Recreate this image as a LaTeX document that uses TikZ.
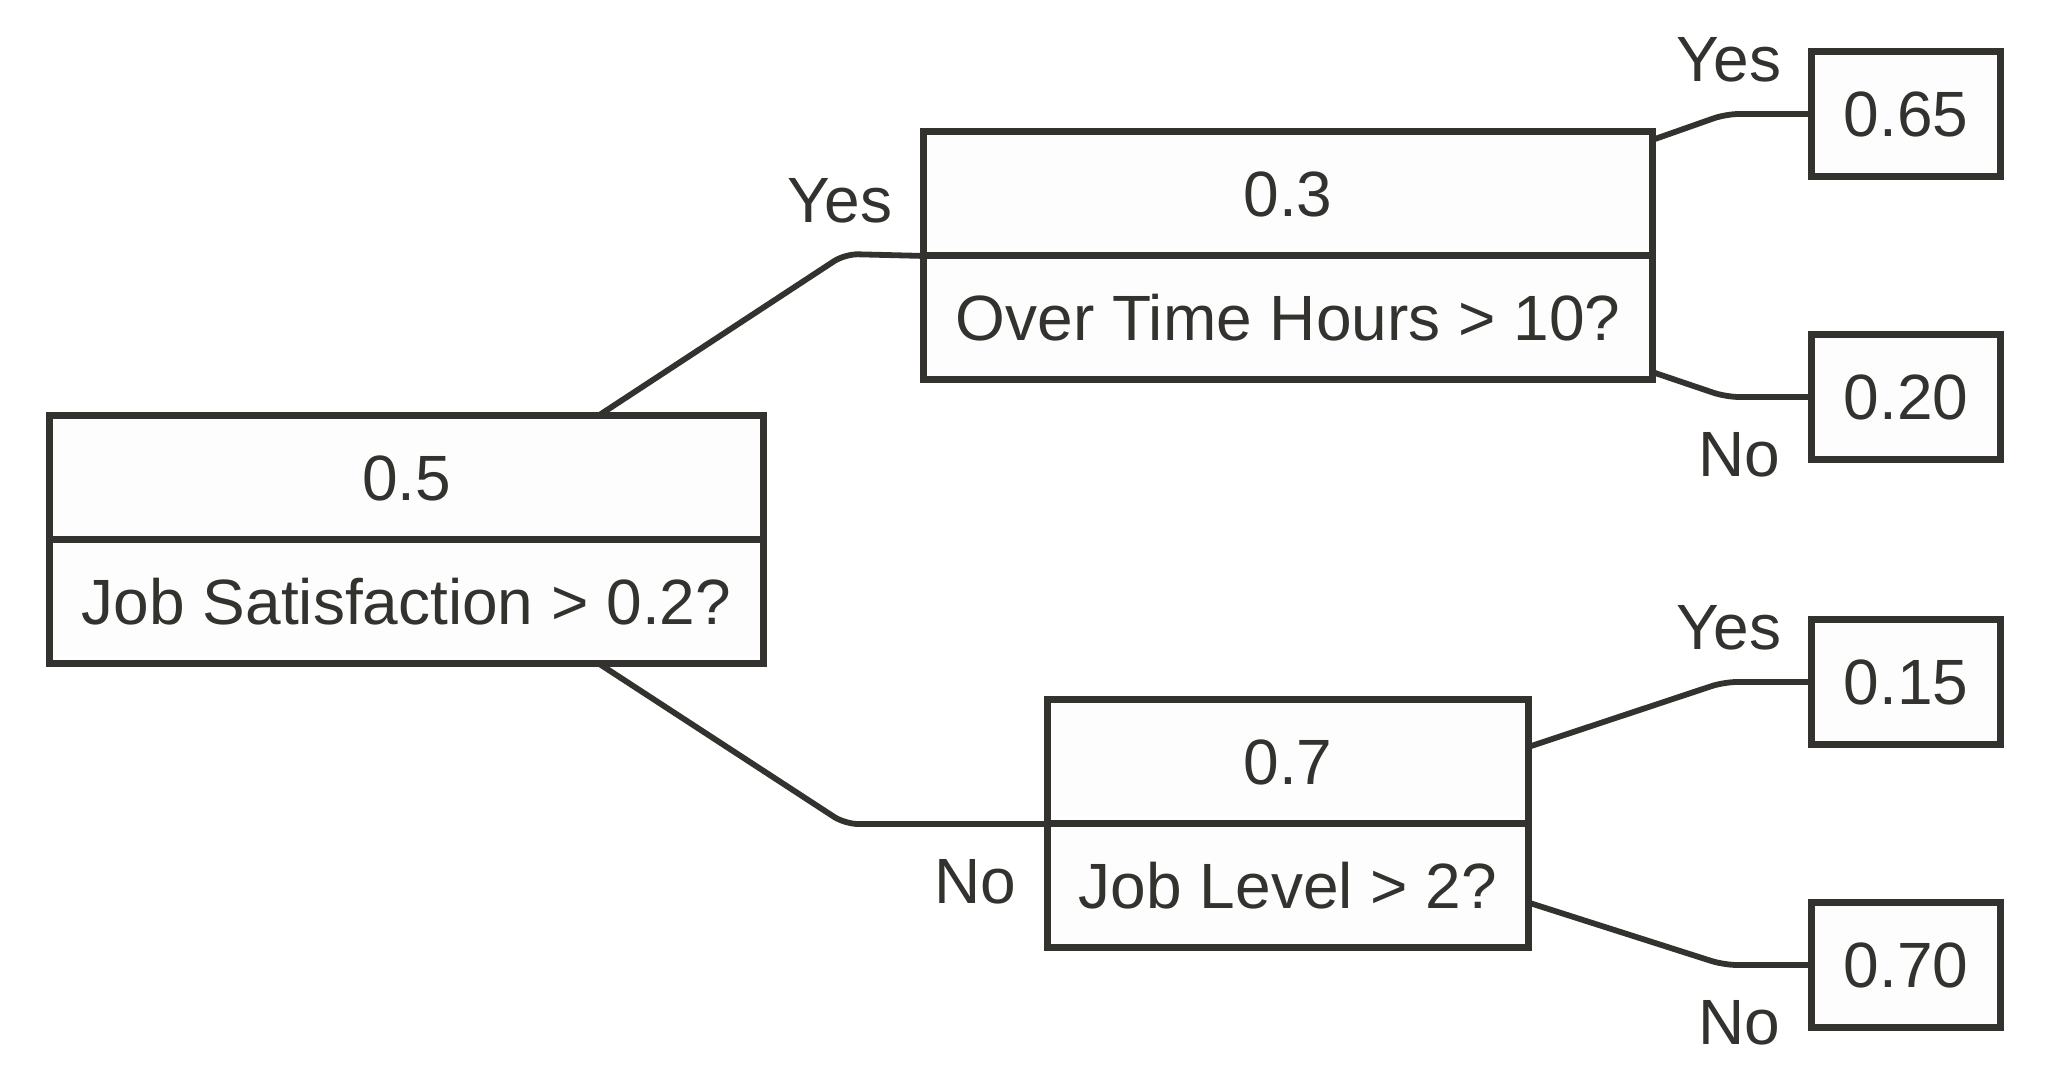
\documentclass[tikz,border=0pt]{standalone}
\usepackage{fontspec}
\setmainfont{Liberation Sans}
\usetikzlibrary{calc}
\definecolor{ink}{RGB}{51,50,46}
\definecolor{paper}{RGB}{253,253,253}
\begin{document}
\begin{tikzpicture}[x=0.01cm,y=-0.01cm,
  font=\fontsize{18.2}{22}\selectfont, text=ink,
  part/.style={draw=ink, fill=paper, line width=0.07cm, inner sep=0pt, outer sep=0pt, minimum height=1.24cm},
  leaf/.style={part, minimum width=1.88cm},
  edge/.style={draw=ink, line width=0.058cm, rounded corners=0.13cm, line join=round},
  lbl/.style={inner sep=0pt, text=ink}]
\useasboundingbox[fill=white] (0,0) rectangle (2052,1080);
% root
\node[part, minimum width=7.13cm] (rtop) at (406.5,478) {0.5};
\node[part, minimum width=7.13cm, minimum height=1.23cm] (rbot) at (406.5,601.5) {Job Satisfaction > 0.2?};
% box A
\node[part, minimum width=7.28cm] (atop) at (1288,194) {0.3};
\node[part, minimum width=7.28cm, minimum height=1.23cm] (abot) at (1288,317.5) {Over Time Hours > 10?};
% box B
\node[part, minimum width=4.80cm] (btop) at (1288,762) {0.7};
\node[part, minimum width=4.80cm, minimum height=1.23cm] (bbot) at (1288,885.5) {Job Level > 2?};
% leaves
\node[leaf] (l1) at (1906,114) {0.65};
\node[leaf] (l2) at (1906,397) {0.20};
\node[leaf] (l3) at (1906,682) {0.15};
\node[leaf] (l4) at (1906,965) {0.70};
% corners
\coordinate (c1) at (845,254);
\coordinate (c2) at (845,824);
\coordinate (c3) at (1726,114);
\coordinate (c4) at (1726,397);
\coordinate (c5) at (1724,682);
\coordinate (c6) at (1724,965);
% edges
\draw[edge] ($(rtop.north)+(191.5,0)$) -- (c1) -- (abot.north west);
\draw[edge] ($(rbot.south)+(191.5,0)$) -- (c2) -- (bbot.north west);
\draw[edge] ($(atop.north east)+(0,8)$) -- (c3) -- (l1.west);
\draw[edge] ($(abot.south east)+(0,-7)$) -- (c4) -- (l2.west);
\draw[edge] ($(btop.east)+(0,-15)$) -- (c5) -- (l3.west);
\draw[edge] ($(bbot.east)+(0,17)$) -- (c6) -- (l4.west);
% labels
\node[lbl] (y1) at (840,201) {Yes};
\node[lbl] (n1) at (975,882) {No};
\node[lbl] (y2) at (1729,60) {Yes};
\node[lbl] (n2) at (1739,455) {No};
\node[lbl] (y3) at (1729,628) {Yes};
\node[lbl] (n3) at (1739,1023) {No};
\end{tikzpicture}
\end{document}
